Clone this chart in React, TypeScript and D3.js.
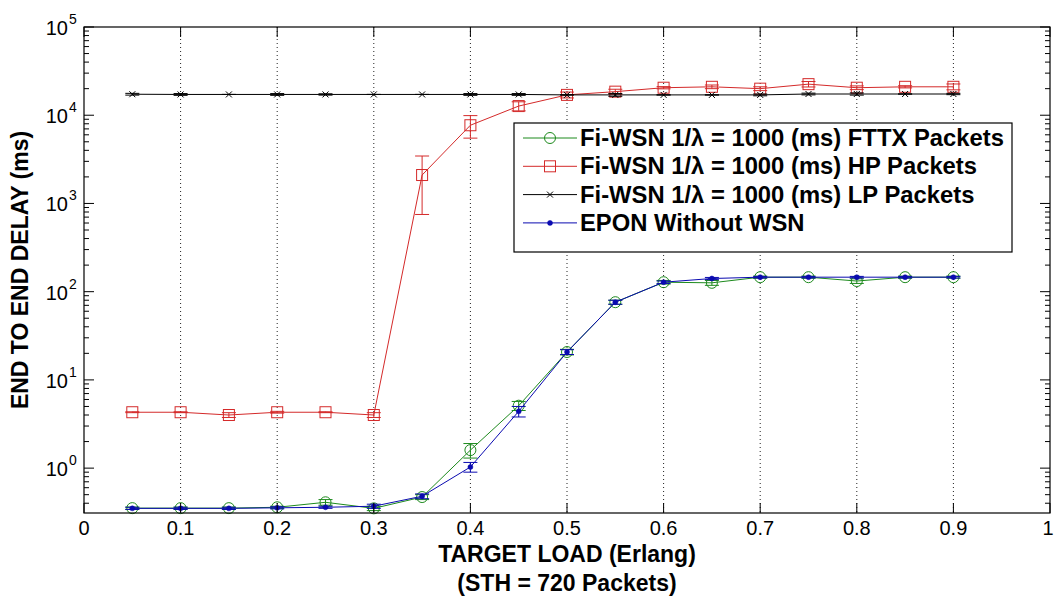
import React from 'react';
import * as d3 from 'd3';

const loads = [0.05, 0.1, 0.15, 0.2, 0.25, 0.3, 0.35, 0.4, 0.45, 0.5, 0.55, 0.6, 0.65, 0.7, 0.75, 0.8, 0.85, 0.9];

const fttxDelay = [0.352, 0.352, 0.352, 0.36, 0.41, 0.35, 0.47, 1.6, 5.1, 20.7, 76, 128, 126, 146, 146, 132, 146, 146];
const fttxErr = [0.01, 0.01, 0.01, 0.01, 0.03, 0.02, 0.03, 0.3, 0.6, 1.5, 4, 6, 8, 4, 4, 8, 4, 4];

const hpDelay = [4.3, 4.3, 4.0, 4.3, 4.3, 4.0, 2100, 7700, 12700, 17000, 18500, 20500, 21000, 20000, 22500, 20500, 21000, 21000];
const hpErr = [0.05, 0.05, 0.25, 0.1, 0.05, 0.25, 1350, 2200, 1500, 1300, 1200, 600, 1000, 1000, 1600, 1000, 600, 1600];

const lpDelay = [17300, 17200, 17200, 17200, 17200, 17200, 17200, 17200, 17200, 17000, 17000, 17000, 17000, 17000, 17400, 17400, 17400, 17400];
const lpErr = [400, 400, 0, 400, 300, 0, 0, 400, 400, 0, 600, 0, 0, 400, 400, 500, 0, 300];

const eponDelay = [0.35, 0.35, 0.35, 0.355, 0.36, 0.37, 0.48, 1.03, 4.4, 20.7, 76, 128, 141, 146, 146, 146, 146, 146];
const eponErr = [0.01, 0.01, 0.01, 0.01, 0.01, 0.02, 0.03, 0.13, 0.6, 1.3, 4, 4, 4, 3, 3, 3, 3, 3];

const xTicks = [0, 0.1, 0.2, 0.3, 0.4, 0.5, 0.6, 0.7, 0.8, 0.9, 1];
const yDecades = [0, 1, 2, 3, 4, 5];

const seriesNames = [
  'Fi-WSN 1/\u03bb = 1000 (ms) FTTX Packets',
  'Fi-WSN 1/\u03bb = 1000 (ms) HP Packets',
  'Fi-WSN 1/\u03bb = 1000 (ms) LP Packets',
  'EPON Without WSN',
];

const W = 1054;
const H = 598;
const left = 84;
const right = 1050;
const top = 27;
const bottom = 513;

type Kind = 'circle' | 'square' | 'x' | 'dot';

const Marker = ({ kind, x, y, color }: { kind: Kind; x: number; y: number; color: string }) => {
  if (kind === 'circle') return <circle cx={x} cy={y} r={5.5} fill="none" stroke={color} strokeWidth={1} />;
  if (kind === 'square') return <rect x={x - 5.5} y={y - 5.5} width={11} height={11} fill="none" stroke={color} strokeWidth={1} />;
  if (kind === 'x')
    return (
      <path d={`M${x - 3},${y - 3}L${x + 3},${y + 3}M${x - 3},${y + 3}L${x + 3},${y - 3}`} stroke={color} strokeWidth={1} />
    );
  return <circle cx={x} cy={y} r={2.5} fill={color} stroke={color} strokeWidth={0.5} />;
};

export default function App() {
  const x = d3.scaleLinear().domain([0, 1]).range([left, right]);
  const y = d3.scaleLog().domain([0.31, 1e5]).range([bottom, top]);

  const series = [
    { name: seriesNames[0], values: fttxDelay, err: fttxErr, color: '#1d8a1d', kind: 'circle' as Kind },
    { name: seriesNames[1], values: hpDelay, err: hpErr, color: '#d42a2a', kind: 'square' as Kind },
    { name: seriesNames[2], values: lpDelay, err: lpErr, color: '#000000', kind: 'x' as Kind },
    { name: seriesNames[3], values: eponDelay, err: eponErr, color: '#0a0ab0', kind: 'dot' as Kind },
  ];

  const line = d3
    .line<number>()
    .x((_d, i) => x(loads[i]))
    .y((d) => y(d));

  const minorTicks: number[] = [];
  for (let e = -1; e < 5; e++) {
    for (let m = 2; m <= 9; m++) {
      const v = m * Math.pow(10, e);
      if (v >= 0.31 && v <= 1e5) minorTicks.push(v);
    }
  }

  const cap = 7;
  const font = 'Arial, "Liberation Sans", sans-serif';

  return (
    <svg width={W} height={H} style={{ position: 'absolute', left: 0, top: 0, background: '#fff' }} fontFamily={font}>
      <rect x={0} y={0} width={W} height={H} fill="#fff" />

      {/* vertical dotted grid */}
      {xTicks.slice(1, -1).map((t) => (
        <line key={'g' + t} x1={x(t)} x2={x(t)} y1={top} y2={bottom} stroke="#222" strokeWidth={1} strokeDasharray="1,3" />
      ))}

      {/* series */}
      {series.map((s) => (
        <g key={s.name}>
          <path d={line(s.values) || ''} fill="none" stroke={s.color} strokeWidth={1} />
          {s.values.map((v, i) => {
            const cx = x(loads[i]);
            const lo = y(Math.max(v - s.err[i], 0.32));
            const hi = y(v + s.err[i]);
            return (
              <g key={i}>
                <path
                  d={`M${cx},${lo}L${cx},${hi}M${cx - cap},${lo}L${cx + cap},${lo}M${cx - cap},${hi}L${cx + cap},${hi}`}
                  stroke={s.color}
                  strokeWidth={1}
                  fill="none"
                />
                <Marker kind={s.kind} x={cx} y={y(v)} color={s.color} />
              </g>
            );
          })}
        </g>
      ))}

      {/* axes box */}
      <rect x={left} y={top} width={right - left} height={bottom - top} fill="none" stroke="#000" strokeWidth={1.2} />

      {/* x ticks */}
      {xTicks.map((t) => (
        <g key={'x' + t}>
          <line x1={x(t)} x2={x(t)} y1={bottom} y2={bottom - 10} stroke="#000" />
          <line x1={x(t)} x2={x(t)} y1={top} y2={top + 10} stroke="#000" />
          <text x={t === 1 ? x(t) - 2 : x(t)} y={535} textAnchor="middle" fontSize={20} fill="#000">
            {t}
          </text>
        </g>
      ))}

      {/* y ticks */}
      {yDecades.map((e) => {
        const yy = y(Math.pow(10, e));
        return (
          <g key={'y' + e}>
            <line x1={left} x2={left + 10} y1={yy} y2={yy} stroke="#000" />
            <line x1={right} x2={right - 10} y1={yy} y2={yy} stroke="#000" />
            <text x={68} y={yy + 8} textAnchor="end" fontSize={20} fill="#000">
              10
            </text>
            <text x={69} y={yy - 3} textAnchor="start" fontSize={14} fill="#000">
              {e}
            </text>
          </g>
        );
      })}
      {minorTicks.map((v) => (
        <g key={'m' + v}>
          <line x1={left} x2={left + 5} y1={y(v)} y2={y(v)} stroke="#000" />
          <line x1={right} x2={right - 5} y1={y(v)} y2={y(v)} stroke="#000" />
        </g>
      ))}

      {/* axis titles */}
      <text x={(left + right) / 2} y={562} textAnchor="middle" fontSize={23} fontWeight="bold" fill="#000">
        TARGET LOAD (Erlang)
      </text>
      <text x={(left + right) / 2} y={591} textAnchor="middle" fontSize={23} fontWeight="bold" fill="#000">
        (STH = 720 Packets)
      </text>
      <text
        transform={`translate(28, ${(top + bottom) / 2}) rotate(-90)`}
        textAnchor="middle"
        fontSize={23}
        fontWeight="bold"
        fill="#000"
      >
        END TO END DELAY (ms)
      </text>

      {/* legend */}
      <g>
        <rect x={514} y={123} width={498} height={129} fill="#fff" stroke="#000" strokeWidth={1.2} />
        {series.map((s, i) => {
          const ly = 138 + i * 28.3;
          return (
            <g key={'l' + i}>
              <line x1={523} x2={577} y1={ly} y2={ly} stroke={s.color} strokeWidth={1} />
              <Marker kind={s.kind} x={550} y={ly} color={s.color} />
              <text x={580} y={ly + 8} fontSize={23.8} fontWeight="bold" fill="#000">
                {s.name}
              </text>
            </g>
          );
        })}
      </g>
    </svg>
  );
}
